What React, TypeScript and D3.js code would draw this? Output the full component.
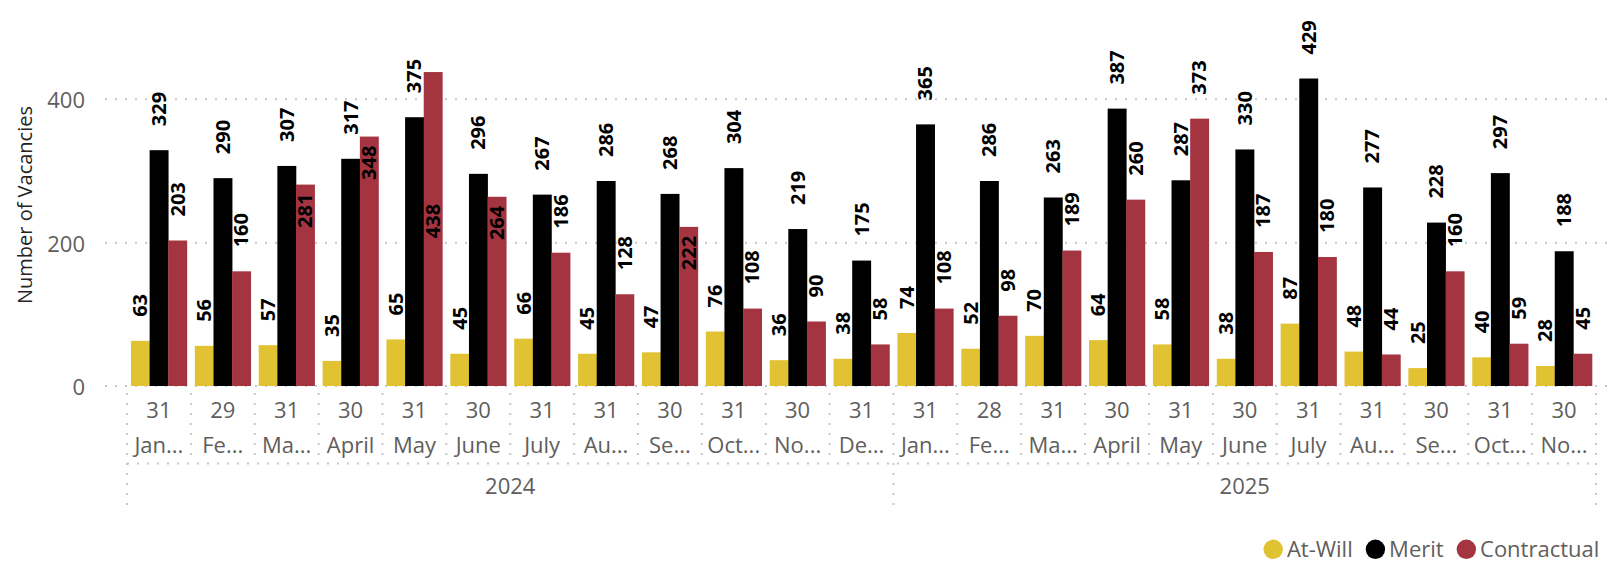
import React, { useEffect, useRef } from 'react';
import * as d3 from 'd3';

const yearNames = ['2024', '2025'];
const monthYear = [
  '2024', '2024', '2024', '2024', '2024', '2024', '2024', '2024', '2024', '2024', '2024', '2024',
  '2025', '2025', '2025', '2025', '2025', '2025', '2025', '2025', '2025', '2025', '2025',
];
const monthLabels = [
  'Jan...', 'Fe...', 'Ma...', 'April', 'May', 'June', 'July', 'Au...', 'Se...', 'Oct...', 'No...', 'De...',
  'Jan...', 'Fe...', 'Ma...', 'April', 'May', 'June', 'July', 'Au...', 'Se...', 'Oct...', 'No...',
];
const dayCounts = [31, 29, 31, 30, 31, 30, 31, 31, 30, 31, 30, 31, 31, 28, 31, 30, 31, 30, 31, 31, 30, 31, 30];
const atWill = [63, 56, 57, 35, 65, 45, 66, 45, 47, 76, 36, 38, 74, 52, 70, 64, 58, 38, 87, 48, 25, 40, 28];
const merit = [329, 290, 307, 317, 375, 296, 267, 286, 268, 304, 219, 175, 365, 286, 263, 387, 287, 330, 429, 277, 228, 297, 188];
const contractual = [203, 160, 281, 348, 438, 264, 186, 128, 222, 108, 90, 58, 108, 98, 189, 260, 373, 187, 180, 44, 160, 59, 45];
const seriesNames = ['At-Will', 'Merit', 'Contractual'];
const seriesColors = ['#E1C233', '#000000', '#A4343F'];
const yTicks = [0, 200, 400];
const yTitle = 'Number of Vacancies';

const FONT = '"Segoe UI", "Open Sans", sans-serif';
const TXT = '#605E5C';
const GRID = '#C8C8C8';

export default function App() {
  const ref = useRef<SVGSVGElement | null>(null);

  useEffect(() => {
    const svg = d3.select(ref.current);
    svg.selectAll('*').remove();
    const W = 1614, H = 565;
    const x0 = 127, x1 = 1596, y0 = 386, y400 = 99.3;
    const plotTop = 15;
    const values = [atWill, merit, contractual];
    const idx = monthLabels.map((_, i) => i);

    const x = d3.scaleBand<number>().domain(idx).range([x0, x1]).paddingInner(0).paddingOuter(0);
    const inner = d3.scaleBand<number>().domain([0, 1, 2]).range([0, x.bandwidth()]).paddingInner(0).paddingOuter(0.214);
    const y = d3.scaleLinear().domain([0, 400]).range([y0, y400]);

    // gridlines
    const grid = svg.append('g');
    yTicks.forEach((t) => {
      grid.append('line')
        .attr('x1', 105).attr('x2', 1607)
        .attr('y1', y(t)).attr('y2', y(t))
        .attr('stroke', GRID).attr('stroke-width', 2).attr('stroke-dasharray', '2 8');
    });

    // y tick labels
    svg.append('g').selectAll('text').data(yTicks).join('text')
      .attr('x', 85).attr('y', (d) => y(d) + 9)
      .attr('text-anchor', 'end')
      .attr('font-family', FONT).attr('font-size', 22).attr('fill', TXT)
      .text((d) => String(d));

    // y title
    svg.append('text')
      .attr('transform', 'translate(31.5,205) rotate(-90)')
      .attr('text-anchor', 'middle')
      .attr('font-family', FONT).attr('font-size', 20).attr('fill', '#252423')
      .text(yTitle);

    // bars
    const barsG = svg.append('g');
    values.forEach((vals, s) => {
      barsG.append('g').selectAll('rect').data(vals).join('rect')
        .attr('x', (_, i) => (x(i) as number) + (inner(s) as number))
        .attr('width', inner.bandwidth() + 0.3)
        .attr('y', (d) => y(d))
        .attr('height', (d) => y0 - y(d))
        .attr('fill', seriesColors[s]);
    });

    // data labels
    const lfs = 20;
    const digitW = 0.572 * lfs;
    const gap = 24, inPad = 9;
    const labG = svg.append('g');
    idx.forEach((i) => {
      const placed: ([number, number] | null)[] = [];
      values.forEach((vals, s) => {
        const v = vals[i];
        const top = y(v);
        const len = String(v).length * digitW;
        const cands: { iv: [number, number]; anchor: string; ay: number; inside: boolean }[] = [
          { iv: [top - gap - len, top - gap], anchor: 'start', ay: top - gap, inside: false },
          { iv: [top + inPad, top + inPad + len], anchor: 'end', ay: top + inPad, inside: true },
          { iv: [(top + y0) / 2 - 8 - len / 2, (top + y0) / 2 - 8 + len / 2], anchor: 'middle', ay: (top + y0) / 2 - 8, inside: true },
        ];
        const prev = s > 0 ? placed[s - 1] : null;
        let chosen = cands[0];
        for (const c of cands) {
          const fitsTop = c.iv[0] >= plotTop;
          const fitsBar = !c.inside || c.iv[1] <= y0 - 2;
          const noOverlap = !prev || c.iv[1] < prev[0] || c.iv[0] > prev[1];
          if (fitsTop && fitsBar && noOverlap) { chosen = c; break; }
        }
        placed.push(chosen.iv);
        const cx = (x(i) as number) + (inner(s) as number) + inner.bandwidth() / 2 + 7;
        labG.append('text')
          .attr('transform', `translate(${cx},${chosen.ay}) rotate(-90)`)
          .attr('text-anchor', chosen.anchor)
          .attr('font-family', FONT).attr('font-size', lfs).attr('font-weight', 700)
          .attr('fill', '#000')
          .text(String(v));
      });
    });

    // x axis hierarchy separators
    const axG = svg.append('g');
    const bounds = d3.range(idx.length + 1).map((k) => x0 + k * x.step());
    bounds.forEach((bx, k) => {
      const isYear = k === 0 || k === idx.length || monthYear[k] !== monthYear[k - 1];
      axG.append('line')
        .attr('x1', bx).attr('x2', bx)
        .attr('y1', 393).attr('y2', isYear ? 508 : 463)
        .attr('stroke', GRID).attr('stroke-width', 2).attr('stroke-dasharray', '2 8');
    });
    axG.append('line')
      .attr('x1', x0).attr('x2', x1).attr('y1', 463.5).attr('y2', 463.5)
      .attr('stroke', GRID).attr('stroke-width', 2).attr('stroke-dasharray', '2 8');

    axG.append('g').selectAll('text').data(idx).join('text')
      .attr('x', (i) => (x(i) as number) + x.bandwidth() / 2)
      .attr('y', 418)
      .attr('text-anchor', 'middle')
      .attr('font-family', FONT).attr('font-size', 22).attr('fill', TXT)
      .text((i) => String(dayCounts[i]));
    axG.append('g').selectAll('text').data(idx).join('text')
      .attr('x', (i) => (x(i) as number) + x.bandwidth() / 2)
      .attr('y', 452.5)
      .attr('text-anchor', 'middle')
      .attr('font-family', FONT).attr('font-size', 22).attr('fill', TXT)
      .text((i) => monthLabels[i]);

    yearNames.forEach((yr) => {
      const members = idx.filter((i) => monthYear[i] === yr);
      const a = x(members[0]) as number;
      const b = (x(members[members.length - 1]) as number) + x.step();
      axG.append('text')
        .attr('x', (a + b) / 2).attr('y', 494)
        .attr('text-anchor', 'middle')
        .attr('font-family', FONT).attr('font-size', 22).attr('fill', TXT)
        .text(yr);
    });

    // legend (right aligned)
    const legG = svg.append('g');
    const r = 9.7;
    let lx = 1263.5;
    seriesNames.forEach((nm, s) => {
      legG.append('circle').attr('cx', lx + r).attr('cy', 549.3).attr('r', r).attr('fill', seriesColors[s]);
      const t = legG.append('text')
        .attr('x', lx + 2 * r + 4).attr('y', 556.7)
        .attr('font-family', FONT).attr('font-size', 22).attr('fill', TXT)
        .text(nm);
      const w = (t.node() as SVGTextElement).getComputedTextLength();
      lx = lx + 2 * r + 4 + w + 13;
    });
    void W; void H;
  }, []);

  return (
    <svg
      ref={ref}
      width={1614}
      height={565}
      style={{ position: 'absolute', left: 0, top: 0, background: '#fff' }}
    />
  );
}
